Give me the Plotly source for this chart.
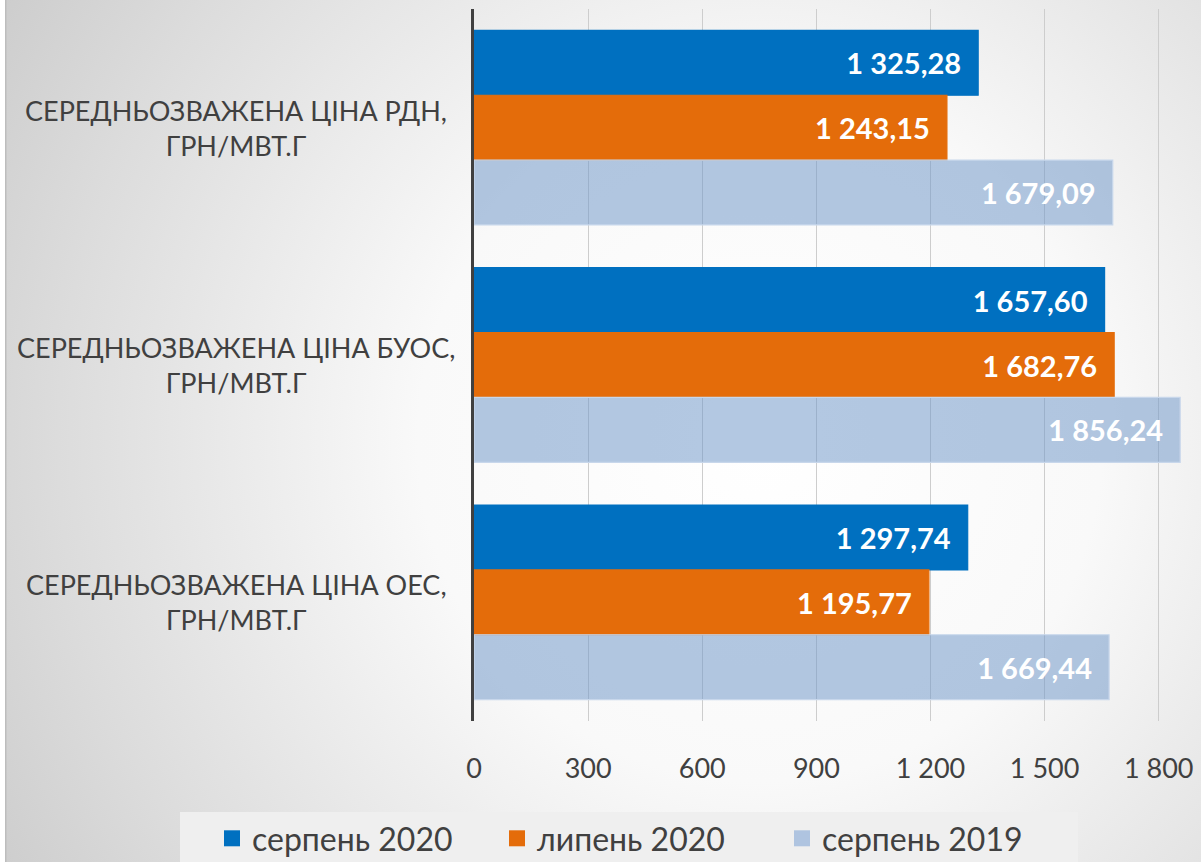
import base64
import plotly.graph_objects as go

# ---------------- data ----------------
categories = ["РДН", "БУОС", "ОЕС"]
category_line1 = ["СЕРЕДНЬОЗВАЖЕНА ЦІНА РДН,", "СЕРЕДНЬОЗВАЖЕНА ЦІНА БУОС,", "СЕРЕДНЬОЗВАЖЕНА ЦІНА ОЕС,"]
category_line2 = ["ГРН/МВТ.Г", "ГРН/МВТ.Г", "ГРН/МВТ.Г"]
series_names = ["серпень 2020", "липень 2020", "серпень 2019"]
aug_2020 = [1325.28, 1657.60, 1297.74]
jul_2020 = [1243.15, 1682.76, 1195.77]
aug_2019 = [1679.09, 1856.24, 1669.44]
tick_values = [0, 300, 600, 900, 1200, 1500, 1800]

# ---------------- geometry ----------------
W, H = 1201, 862
L, R, T, B = 474, 1193, 9, 721
pw, ph = R - L, B - T
FONT = "Lato"
TXT = "#404040"

# background radial gradient as an SVG image
svg = f'''<svg xmlns="http://www.w3.org/2000/svg" width="{W}" height="{H}" viewBox="0 0 {W} {H}" preserveAspectRatio="none">
<defs><radialGradient id="g" gradientUnits="userSpaceOnUse" cx="760" cy="440" r="900">
<stop offset="0" stop-color="#FFFFFF"/><stop offset="0.38" stop-color="#F9F9F9"/>
<stop offset="0.78" stop-color="#DCDCDC"/><stop offset="1" stop-color="#CBCBCB"/></radialGradient></defs>
<rect x="0" y="0" width="{W}" height="{H}" fill="url(#g)"/>
<rect x="0" y="0" width="5" height="{H}" fill="#FFFFFF"/>
<rect x="5" y="0" width="1.5" height="{H}" fill="#BDBDBD"/>
</svg>'''
bg_uri = "data:image/svg+xml;base64," + base64.b64encode(svg.encode()).decode()

colors = ["#0070C0", "#E46C0A", "rgba(117,154,202,0.55)"]
legend_colors = ["#0070C0", "#E46C0A", "#AFC4E0"]
line_colors = ["#0070C0", "#E46C0A", "#C8D7EB"]
values = [aug_2020, jul_2020, aug_2019]

fig = go.Figure()
pad = "\u00a0\u00a0"
for name, vals, c, lc in zip(series_names, values, colors, line_colors):
    fig.add_trace(go.Bar(
        y=categories, x=vals, name=name, orientation="h",
        legendgroup=name, showlegend=False,
        marker=dict(color=c, line=dict(color=lc, width=1.2)),
        texttemplate="%{x:,.2f}" + pad, textposition="inside",
        insidetextanchor="end", textangle=0, constraintext="none",
        textfont=dict(family=FONT, size=29, color="white", weight="bold"),
        hoverinfo="skip",
    ))
# legend entries with larger square swatches
for name, c in zip(series_names, legend_colors):
    fig.add_trace(go.Scatter(
        x=[None], y=[None], mode="markers", name=name, legendgroup=name,
        marker=dict(symbol="square", size=16, color=c), hoverinfo="skip",
    ))

annotations = []
for cat, l1, l2 in zip(categories, category_line1, category_line2):
    annotations.append(dict(
        xref="paper", yref="y", x=(236 - L) / pw, y=cat,
        text=f"{l1}<br>{l2}", showarrow=False, align="center",
        xanchor="center", yanchor="middle",
        font=dict(family=FONT, size=27, color=TXT),
    ))

fig.update_layout(
    width=W, height=H, autosize=False,
    margin=dict(l=L, r=W - R, t=T, b=H - B, pad=0, autoexpand=False),
    paper_bgcolor="#FFFFFF", plot_bgcolor="rgba(0,0,0,0)",
    barmode="group", bargap=0.18, bargroupgap=0,
    separators=", ",
    font=dict(family=FONT, color=TXT),
    images=[dict(source=bg_uri, xref="paper", yref="paper",
                 x=-L / pw, y=1 + T / ph, sizex=W / pw, sizey=H / ph,
                 xanchor="left", yanchor="top", sizing="stretch", layer="below")],
    shapes=[dict(type="rect", xref="paper", yref="paper",
                 x0=(180 - L) / pw, x1=(1078 - L) / pw,
                 y0=(B - 812) / ph, y1=(B - 870) / ph,
                 fillcolor="#EFEFEF", line=dict(width=0), layer="below")],
    annotations=annotations,
    legend=dict(orientation="h", x=(212 - L) / pw, xanchor="left",
                y=(B - 811) / ph, yanchor="top", bgcolor="rgba(0,0,0,0)",
                font=dict(family=FONT, size=32, color=TXT),
                entrywidth=240, entrywidthmode="pixels", traceorder="normal"),
    xaxis=dict(range=[0, 1890], tickvals=tick_values, tickformat=",d",
               showgrid=True, gridcolor="#CDCDCD", gridwidth=1,
               zeroline=False, showline=False,
               ticks="outside", ticklen=24, tickcolor="rgba(0,0,0,0)",
               tickfont=dict(family=FONT, size=27, color=TXT), fixedrange=True),
    yaxis=dict(autorange="reversed", showticklabels=False, showgrid=False,
               showline=True, linecolor="#404040", linewidth=3, ticks="",
               zeroline=False, fixedrange=True),
)

fig.write_html("out.html", config={"displayModeBar": False},
               post_script="document.body.style.margin='0';")
